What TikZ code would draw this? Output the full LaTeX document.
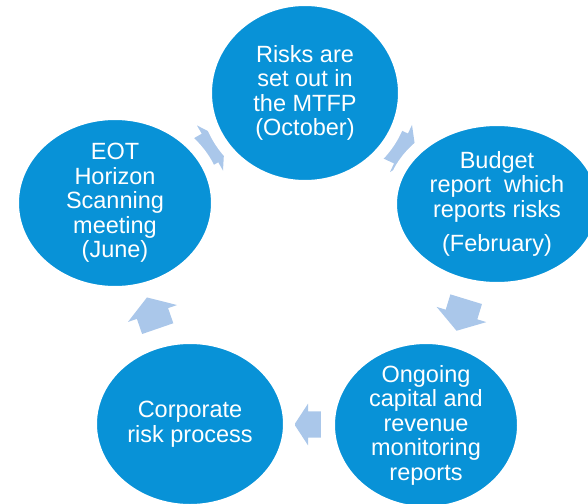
\documentclass[tikz,border=0pt]{standalone}
\usepackage{fontspec}
\setmainfont{Liberation Sans}
\usetikzlibrary{positioning, calc, backgrounds, shapes.geometric}
\definecolor{cycleblue}{RGB}{8,146,215}
\definecolor{arrowblue}{RGB}{170,199,234}

\begin{document}
\begin{tikzpicture}[x=1pt, y=-1pt]
    % Define styles
    \tikzstyle{stage} = [ellipse, fill=cycleblue, draw=white, line width=12pt, inner sep=0pt, text=white, align=center, font=\fontsize{23.5}{24.5}\selectfont]
    \tikzstyle{cyclearrow} = [fill=arrowblue]

    \useasboundingbox (0,0) rectangle (588,503);

    % Place the stages of the cycle
    \node [stage, minimum width=198pt, minimum height=186pt] (mtfp) at (305,93) {Risks are\\set out in\\the MTFP\\(October)};
    \node [stage, minimum width=212pt, minimum height=168pt] (budget) at (497,204) {Budget\\report\ \ which\\reports risks\\[10pt](February)};
    \node [stage, minimum width=194pt, minimum height=174pt] (ongoing) at (426,425) {Ongoing\\capital and\\revenue\\monitoring\\reports};
    \node [stage, minimum width=198pt, minimum height=172pt] (corporate) at (190,424) {Corporate\\risk process};
    \node [stage, minimum width=204pt, minimum height=178pt] (eot) at (115,203) {EOT\\Horizon\\Scanning\\meeting\\(June)};

    % Draw the arrows behind the stages
    \begin{pgfonlayer}{background}
        \fill [cyclearrow, shift={($(eot)!0.5!(mtfp)$)}, rotate=30] (-16,-16.5) -- (0,-16.5) -- (0,-26) -- (17,0) -- (0,26) -- (0,16.5) -- (-16,16.5) -- cycle;
        \fill [cyclearrow, shift={($(mtfp)!0.5!(budget)$)}, rotate=-25] (-16,-16.5) -- (0,-16.5) -- (0,-26) -- (17,0) -- (0,26) -- (0,16.5) -- (-16,16.5) -- cycle;
        \fill [cyclearrow, shift={($(budget)!0.5!(ongoing)$)}, rotate=253] (-16,-16.5) -- (0,-16.5) -- (0,-26) -- (17,0) -- (0,26) -- (0,16.5) -- (-16,16.5) -- cycle;
        \fill [cyclearrow, shift={($(ongoing)!0.5!(corporate)$)}, rotate=180, scale=0.8] (-16,-16.5) -- (0,-16.5) -- (0,-26) -- (17,0) -- (0,26) -- (0,16.5) -- (-16,16.5) -- cycle;
        \fill [cyclearrow, shift={($(corporate)!0.5!(eot)$)}, rotate=109] (-16,-16.5) -- (0,-16.5) -- (0,-26) -- (17,0) -- (0,26) -- (0,16.5) -- (-16,16.5) -- cycle;
    \end{pgfonlayer}

\end{tikzpicture}
\end{document}
